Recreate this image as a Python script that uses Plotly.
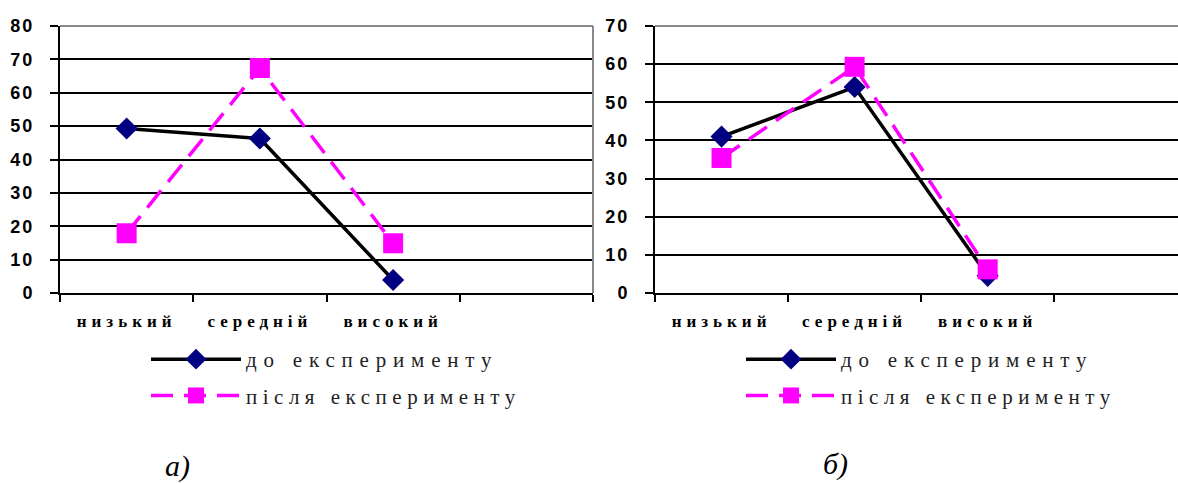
import plotly.graph_objects as go

categories = ["низький", "середній", "високий"]
a_before = [49.3, 46.3, 3.9]
a_after = [17.9, 67.4, 14.9]
b_before = [41.0, 54.0, 4.5]
b_after = [35.4, 59.3, 6.2]
a_ticks = [0, 10, 20, 30, 40, 50, 60, 70, 80]
b_ticks = [0, 10, 20, 30, 40, 50, 60, 70]
series_names = ["до експерименту", "після експерименту"]
captions = ["а)", "б)"]

xpos = list(range(len(categories)))
W, H = 1178, 483

def sp(t, ls):
    return f'<span style="letter-spacing:{ls}px">{t}</span>'

fig = go.Figure()
panels = [("x", "y", "legend", a_before, a_after), ("x2", "y2", "legend2", b_before, b_after)]
for xa, ya, lg, bef, aft in panels:
    fig.add_trace(go.Scatter(
        x=xpos, y=bef, xaxis=xa, yaxis=ya, mode="lines+markers",
        name=sp(series_names[0], 6.8), legend=lg, legendgroup=xa + "a",
        line=dict(color="black", width=3.5),
        marker=dict(symbol="diamond", size=17, color="#000080"),
    ))
    fig.add_trace(go.Scatter(
        x=xpos, y=aft, xaxis=xa, yaxis=ya, mode="lines+markers",
        name=sp(series_names[1], 5.5), legend=lg, legendgroup=xa + "b",
        line=dict(color="#FF00FF", width=3.5, dash="22px,11px"),
        marker=dict(symbol="square", size=20, color="#FF00FF"),
    ))

ydom = [1 - 293 / H, 1 - 26 / H]
xcommon = dict(
    showline=True, linecolor="black", linewidth=2, showgrid=False, zeroline=False,
    tickvals=xpos, ticktext=[sp(c, 5) for c in categories], ticks="",
    tickfont=dict(family="Liberation Serif", size=17, color="black", weight="bold"),
    ticklabelstandoff=12, automargin=False,
    minor=dict(tickvals=[-0.5, 0.5, 1.5, 2.5, 3.5], ticks="outside", ticklen=7,
               tickwidth=2, tickcolor="black", showgrid=False),
    fixedrange=True,
)
def ycommon(ticks):
    return dict(
        domain=ydom, range=[0, ticks[-1]], showline=True, linecolor="black", linewidth=2,
        tickvals=ticks, ticktext=[sp(str(t), 2) for t in ticks], ticks="outside", ticklen=8,
        tickwidth=2, tickcolor="black", showgrid=True, gridcolor="black", gridwidth=2,
        zeroline=False, ticklabelstandoff=12, automargin=False, fixedrange=True,
        tickfont=dict(family="Liberation Sans", size=18, color="black", weight="bold"),
    )

leg_common = dict(
    font=dict(family="Liberation Serif", size=21, color="#222"),
    bgcolor="rgba(0,0,0,0)", tracegroupgap=6, itemwidth=90, borderwidth=0,
    xanchor="left", yanchor="top", y=1 - 339 / H, traceorder="grouped",
)

fig.update_layout(
    template="none",
    width=W, height=H, margin=dict(l=0, r=0, t=0, b=0, autoexpand=False),
    paper_bgcolor="white", plot_bgcolor="white", showlegend=True,
    xaxis=dict(domain=[60 / W, 593 / W], range=[-0.5, 3.5], anchor="y", **xcommon),
    xaxis2=dict(domain=[655 / W, 1.0], range=[-0.5, 3.43], anchor="y2", **xcommon),
    yaxis=dict(anchor="x", **ycommon(a_ticks)),
    yaxis2=dict(anchor="x2", **ycommon(b_ticks)),
    legend=dict(x=146 / W, **leg_common),
    legend2=dict(x=741 / W, **leg_common),
    shapes=[
        dict(type="line", xref="x domain", yref="y domain", x0=0, x1=1, y0=1, y1=1,
             line=dict(color="#888", width=2), layer="above"),
        dict(type="line", xref="x domain", yref="y domain", x0=1, x1=1, y0=0, y1=1,
             line=dict(color="#888", width=2), layer="above"),
        dict(type="line", xref="x2 domain", yref="y2 domain", x0=0, x1=1, y0=1, y1=1,
             line=dict(color="#888", width=2), layer="above"),
    ],
    annotations=[
        dict(text=captions[0], xref="paper", yref="paper", x=177 / W, y=1 - 466 / H,
             xanchor="center", yanchor="middle", showarrow=False,
             font=dict(family="Liberation Serif", size=30, style="italic", color="black")),
        dict(text=captions[1], xref="paper", yref="paper", x=835 / W, y=1 - 464 / H,
             xanchor="center", yanchor="middle", showarrow=False,
             font=dict(family="Liberation Serif", size=30, style="italic", color="black")),
    ],
)

fig.write_html("out.html")
